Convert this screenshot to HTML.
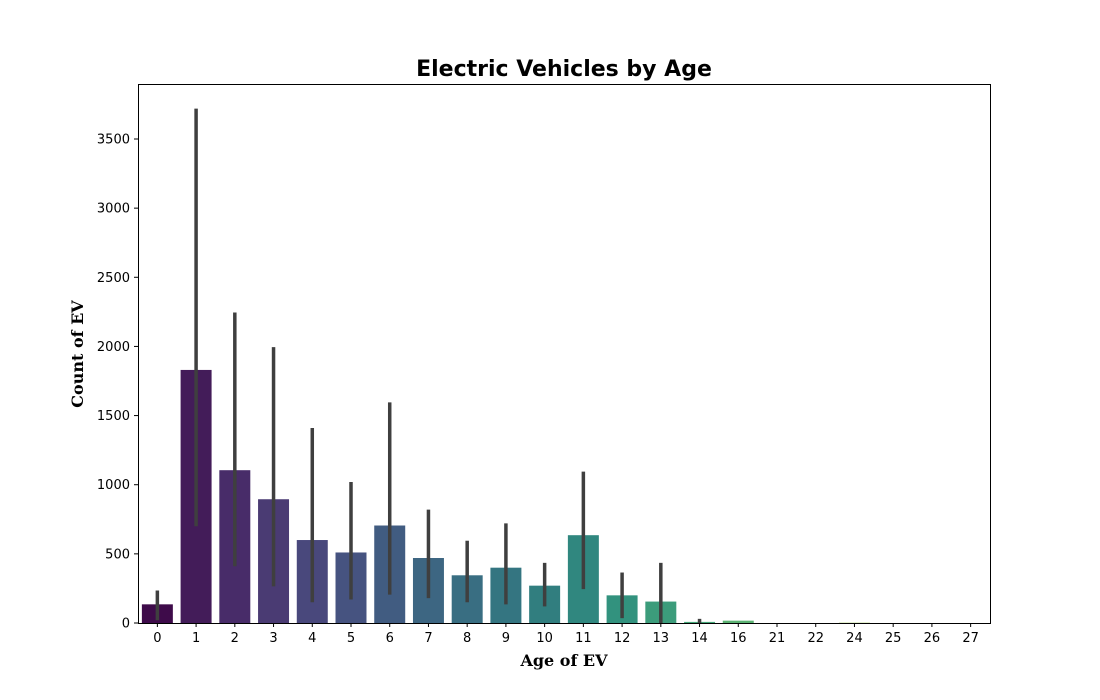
<!DOCTYPE html>
<html><head><meta charset="utf-8">
<style>
body{margin:0;background:#fff;}
svg{display:block;}
</style></head>
<body>
<svg id="chart" width="1100" height="700" xmlns="http://www.w3.org/2000/svg">
<text x="564" y="76" text-anchor="middle" font-family="'DejaVu Sans', sans-serif" font-weight="bold" font-size="22">Electric Vehicles by Age</text>
<text x="564" y="666" text-anchor="middle" font-family="'DejaVu Serif', 'Liberation Serif', serif" font-weight="bold" font-size="16">Age of EV</text>
<text transform="translate(83,354) rotate(-90)" text-anchor="middle" font-family="'DejaVu Serif', 'Liberation Serif', serif" font-weight="bold" font-size="16">Count of EV</text>
<g id="bars"></g>
<g id="errs"></g>
<g id="xticks"></g>
<g id="yticks"></g>
<rect x="138.5" y="84.5" width="852" height="539" fill="none" stroke="#000" stroke-width="1"/>
</svg>
<script>
const categories = ["0","1","2","3","4","5","6","7","8","9","10","11","12","13","14","16","21","22","24","25","26","27"];
const counts = [135,1830,1105,895,600,510,705,470,345,400,270,635,200,155,8,17,0,0,2,0,0,0];
const errLow = [20,700,410,265,150,170,205,180,150,135,120,245,35,0,0,0,0,0,0,0,0,0];
const errHigh = [235,3720,2245,1995,1410,1020,1595,820,595,720,435,1095,365,435,30,0,0,0,0,0,0,0];
const yTicks = [0,500,1000,1500,2000,2500,3000,3500];

const NS="http://www.w3.org/2000/svg";
const x0=138, x1=990, yBase=623;
const step=(x1-x0)/categories.length;
function xCenter(i){return x0+step*(i+0.5);}
function yScale(v){return yBase-(v/3500)*(623-139);}
const vir=[[68,1,84],[72,40,120],[62,73,137],[49,104,142],[38,130,142],[31,158,137],[53,183,121],[109,205,89],[180,222,44],[253,231,37]];
function desat(r,g,b,s){r/=255;g/=255;b/=255;const mx=Math.max(r,g,b),mn=Math.min(r,g,b),l=(mx+mn)/2;
  if(mx===mn)return [r,g,b].map(v=>Math.round(v*255));
  const d=mx-mn;let S=l>0.5?d/(2-mx-mn):d/(mx+mn);let h;
  if(mx===r)h=((g-b)/d+(g<b?6:0));else if(mx===g)h=(b-r)/d+2;else h=(r-g)/d+4;h/=6;
  S*=s;const q=l<0.5?l*(1+S):l+S-l*S,p=2*l-q;
  function hue(t){if(t<0)t+=1;if(t>1)t-=1;if(t<1/6)return p+(q-p)*6*t;if(t<1/2)return q;if(t<2/3)return p+(q-p)*(2/3-t)*6;return p;}
  return [hue(h+1/3),hue(h),hue(h-1/3)].map(v=>Math.round(v*255));}
function viridis(t){t=Math.max(0,Math.min(1,t));const p=t*(vir.length-1),i=Math.min(vir.length-2,Math.floor(p)),f=p-i;
const c=vir[i].map((a,k)=>a+(vir[i+1][k]-a)*f);const d=desat(c[0],c[1],c[2],0.75);return `rgb(${d[0]},${d[1]},${d[2]})`;}
function mk(tag,attrs,parent){const e=document.createElementNS(NS,tag);for(const k in attrs)e.setAttribute(k,attrs[k]);parent.appendChild(e);return e;}
const gb=document.getElementById('bars'),ge=document.getElementById('errs'),gx=document.getElementById('xticks'),gy=document.getElementById('yticks');
const bw=step*0.8;
categories.forEach((c,i)=>{
  const cx=xCenter(i);
  const r=mk('rect',{x:cx-bw/2,y:yScale(counts[i]),width:bw,height:yBase-yScale(counts[i]),fill:viridis(i/(categories.length-1))},gb);
  
  
  if(errHigh[i]>errLow[i]){
    const l=mk('line',{x1:cx,x2:cx,y1:yScale(errLow[i]),y2:yScale(errHigh[i]),stroke:'#3f3f3f','stroke-width':3.5},ge);
    
    
  }
  mk('line',{x1:cx,x2:cx,y1:yBase,y2:yBase+4,stroke:'#000'},gx);
  const t=mk('text',{x:cx,y:yBase+19,'text-anchor':'middle','font-family':"'DejaVu Sans', sans-serif",'font-size':13},gx);
  t.textContent=c;
  
  
});
yTicks.forEach(v=>{
  const y=yScale(v);
  mk('line',{x1:x0-4,x2:x0,y1:y,y2:y,stroke:'#000'},gy);
  const t=mk('text',{x:x0-8,y:y+4.5,'text-anchor':'end','font-family':"'DejaVu Sans', sans-serif",'font-size':13},gy);
  t.textContent=v;
  
  
});
</script>
</body></html>
